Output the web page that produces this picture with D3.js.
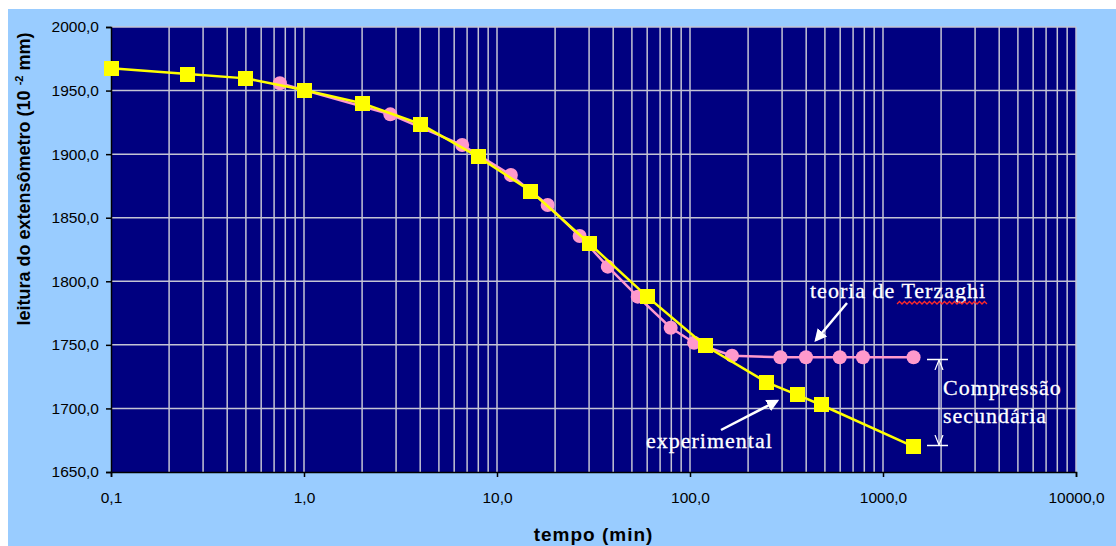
<!DOCTYPE html>
<html><head><meta charset="utf-8">
<script src="https://cdn.jsdelivr.net/npm/d3@7"></script>
<style>html,body{margin:0;padding:0;background:#fff;}svg{display:block;}</style>
</head><body>
<svg id="c" width="1116" height="546"></svg>
<script>
// ---- data ----
const expTime    = [0.1, 0.25, 0.5, 1, 2, 4, 8, 15, 30, 60, 120, 250, 360, 480, 1440];
const expReading = [1967.5, 1963, 1959.6, 1950.4, 1940, 1923.7, 1897.8, 1870.8, 1829.9, 1787.9, 1749.3, 1720.5, 1710.6, 1702.7, 1669.9];
const terzTime    = [0.75, 2.8, 6.6, 11.8, 18.3, 26.8, 37.5, 53.6, 79.4, 105, 165, 294, 399, 597, 787, 1440];
const terzReading = [1955.7, 1931.3, 1907.2, 1883.6, 1860, 1835.6, 1811.5, 1787.9, 1763.5, 1751.7, 1741.5, 1740.2, 1740.2, 1740.2, 1740.2, 1740.2];
const xTicks = [0.1, 1, 10, 100, 1000, 10000];
const yTicks = [1650, 1700, 1750, 1800, 1850, 1900, 1950, 2000];
const xTitle = "tempo (min)";
const yTitleMain = "leitura do extensômetro (10 ";
const yTitleSup = "-2";
const yTitleEnd = " mm)";
const labelTerz = "teoria de Terzaghi";
const labelExp = "experimental";
const labelComp = ["Compressão", "secundária"];

const svg = d3.select("#c");
const L = 111, R = 1076, T = 27, B = 472;
const x = d3.scaleLog().domain([0.1, 10000]).range([L, R]);
const y = d3.scaleLinear().domain([1650, 2000]).range([B, T]);
const loc = d3.formatLocale({decimal: ",", thousands: ".", grouping: [3], currency: ["", ""]});
const fmt = loc.format(".1f");

// backgrounds
svg.append("rect").attr("x", 8).attr("y", 9).attr("width", 1108).attr("height", 537).attr("fill", "#99CCFF");
svg.append("rect").attr("x", L).attr("y", T).attr("width", R - L).attr("height", B - T).attr("fill", "#000080");

// grid
const minor = [];
for (let d = 0.1; d < 10000; d *= 10) for (let k = 1; k <= 10; k++) minor.push(+(d * k).toPrecision(6));
const g = svg.append("g").attr("stroke", "#c4c4d4").attr("stroke-width", 1.5);
Array.from(new Set(minor)).forEach(v => {
  if (v <= 0.1) return;
  g.append("line").attr("x1", x(v)).attr("x2", x(v)).attr("y1", T).attr("y2", B);
});
yTicks.forEach(v => { if (v > 1650) g.append("line").attr("x1", L).attr("x2", R).attr("y1", y(v)).attr("y2", y(v)); });

// axes
const ax = svg.append("g").attr("transform", `translate(0,${B})`)
  .call(d3.axisBottom(x).tickValues(xTicks).tickFormat(fmt).tickSize(5).tickPadding(15));
const ay = svg.append("g").attr("transform", `translate(${L},0)`)
  .call(d3.axisLeft(y).tickValues(yTicks).tickFormat(fmt).tickSize(5).tickPadding(7));
[ax, ay].forEach(a => {
  a.selectAll("text").attr("font-family", "Liberation Sans, Arial, sans-serif").attr("font-size", 15.5).attr("fill", "#000");
  a.select(".domain").attr("stroke", "#000").attr("stroke-width", 1.5);
  a.selectAll(".tick line").attr("stroke", "#000").attr("stroke-width", 1.5);
});

// series lines
const lineT = d3.line().x(d => x(d[0])).y(d => y(d[1]));
const terz = terzTime.map((t, i) => [t, terzReading[i]]);
const exp = expTime.map((t, i) => [t, expReading[i]]);
svg.append("path").attr("d", lineT(terz)).attr("fill", "none").attr("stroke", "#FF99CC").attr("stroke-width", 2.5);
svg.append("g").selectAll("circle").data(terz).join("circle")
  .attr("cx", d => x(d[0])).attr("cy", d => y(d[1])).attr("r", 7).attr("fill", "#FF99CC");
svg.append("path").attr("d", lineT(exp)).attr("fill", "none").attr("stroke", "#FFFF00").attr("stroke-width", 2.5);
svg.append("g").attr("shape-rendering", "crispEdges").selectAll("rect").data(exp).join("rect")
  .attr("x", d => Math.round(x(d[0]) - 7.5)).attr("y", d => Math.round(y(d[1]) - 7.5)).attr("width", 15).attr("height", 15).attr("fill", "#FFFF00");

// titles
svg.append("text").attr("x", (L + R) / 2).attr("y", 541).attr("text-anchor", "middle")
  .attr("font-family", "Liberation Sans, Arial, sans-serif").attr("font-weight", "bold").attr("font-size", 19)
  .attr("letter-spacing", 1).text(xTitle);
const yt = svg.append("text").attr("transform", "translate(30,179) rotate(-90)").attr("text-anchor", "middle")
  .attr("font-family", "Liberation Sans, Arial, sans-serif").attr("font-weight", "bold").attr("font-size", 18);
yt.append("tspan").text(yTitleMain);
yt.append("tspan").attr("font-size", 11).attr("dy", -7).text(yTitleSup);
yt.append("tspan").attr("dy", 7).text(yTitleEnd);

// annotations
const defs = svg.append("defs");
defs.append("marker").attr("id", "ah").attr("viewBox", "0 0 10 10").attr("refX", 8).attr("refY", 5)
  .attr("markerWidth", 5).attr("markerHeight", 5).attr("orient", "auto")
  .append("path").attr("d", "M0,0 L10,5 L0,10 z").attr("fill", "#fff");
defs.append("marker").attr("id", "vh").attr("viewBox", "0 0 10 10").attr("refX", 10).attr("refY", 5)
  .attr("markerWidth", 10).attr("markerHeight", 10).attr("orient", "auto-start-reverse").attr("markerUnits", "userSpaceOnUse")
  .append("path").attr("d", "M0,1 L10,5 L0,9").attr("fill", "none").attr("stroke", "#fff").attr("stroke-width", 1.2);

const serif = "Liberation Serif, Times New Roman, serif";
function label(txt, tx, ty) {
  return svg.append("text").attr("x", tx).attr("y", ty).attr("font-family", serif).attr("font-size", 22)
    .attr("letter-spacing", 1).attr("fill", "#fff").attr("stroke", "#fff").attr("stroke-width", 0.3).text(txt);
}
label(labelTerz, 810, 298);
label(labelExp, 646, 448);
label(labelComp[0], 943, 395);
label(labelComp[1], 943, 423);
// red spell-check squiggle under "Terzaghi"
let sq = "M897,304";
for (let xx = 897, k = 0; xx < 985; xx += 2.5, k++) sq += ` L${xx + 2.5},${k % 2 ? 304 : 301.5}`;
svg.append("path").attr("d", sq).attr("fill", "none").attr("stroke", "#ff2a2a").attr("stroke-width", 1.3);

svg.append("line").attr("x1", 847).attr("y1", 303).attr("x2", 816).attr("y2", 340)
  .attr("stroke", "#fff").attr("stroke-width", 2.5).attr("marker-end", "url(#ah)");
svg.append("line").attr("x1", 721).attr("y1", 430).attr("x2", 777).attr("y2", 401)
  .attr("stroke", "#fff").attr("stroke-width", 2.5).attr("marker-end", "url(#ah)");
// double arrow with caps
svg.append("line").attr("x1", 939).attr("y1", 360).attr("x2", 939).attr("y2", 445)
  .attr("stroke", "#fff").attr("stroke-width", 1.2).attr("marker-start", "url(#vh)").attr("marker-end", "url(#vh)");
[359.5, 445.5].forEach(yy => svg.append("line").attr("x1", 927).attr("x2", 948).attr("y1", yy).attr("y2", yy)
  .attr("stroke", "#fff").attr("stroke-width", 1.5));
</script>
</body></html>
